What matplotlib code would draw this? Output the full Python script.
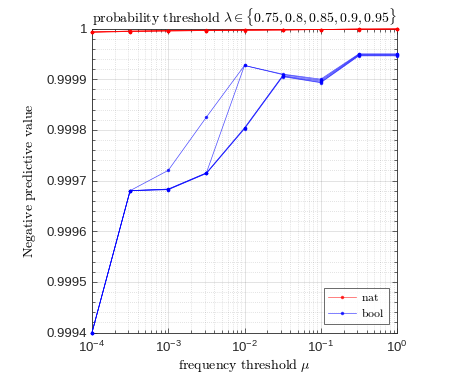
import numpy as np
import matplotlib
matplotlib.use("Agg")
import matplotlib.pyplot as plt
from matplotlib.ticker import MultipleLocator, LogLocator, NullFormatter, FixedLocator

plt.rcParams['font.family'] = ['Liberation Sans', 'DejaVu Sans']

mu = [1e-4, 10**-3.5, 1e-3, 10**-2.5, 1e-2, 10**-1.5, 1e-1, 10**-0.5, 1.0]
lambdas = [0.75, 0.8, 0.85, 0.9, 0.95]

nat = [
    [0.999993, 0.999995, 0.999996, 0.999997, 0.999997, 0.999998, 0.999998, 0.999999, 0.999999],
    [0.999993, 0.999995, 0.999996, 0.999996, 0.999997, 0.999998, 0.999998, 0.999999, 0.999999],
    [0.999993, 0.999994, 0.999996, 0.999996, 0.999997, 0.999997, 0.999998, 0.999999, 0.999999],
    [0.999993, 0.999994, 0.999995, 0.999996, 0.999997, 0.999997, 0.999998, 0.999998, 0.999999],
    [0.999993, 0.999994, 0.999995, 0.999996, 0.999996, 0.999997, 0.999998, 0.999998, 0.999999],
]
bool_ = [
    [0.9994, 0.999680, 0.999720, 0.999825, 0.999927, 0.999910, 0.999900, 0.999950, 0.999950],
    [0.9994, 0.999680, 0.999683, 0.999715, 0.999927, 0.999909, 0.999898, 0.999949, 0.999949],
    [0.9994, 0.999680, 0.999683, 0.999715, 0.999804, 0.999907, 0.999896, 0.999948, 0.999948],
    [0.9994, 0.999680, 0.999682, 0.999714, 0.999803, 0.999906, 0.999894, 0.999947, 0.999947],
    [0.9994, 0.999680, 0.999682, 0.999714, 0.999802, 0.999905, 0.999893, 0.999946, 0.999946],
]
ytick_vals = [0.9994, 0.9995, 0.9996, 0.9997, 0.9998, 0.9999, 1.0]
ytick_labels = ['0.9994', '0.9995', '0.9996', '0.9997', '0.9998', '0.9999', '1']

fig = plt.figure(figsize=(4.71, 3.73), dpi=100)
ax = fig.add_axes([92/471, 1-332.5/373, (397-92)/471, (332.5-28.5)/373])

for i, row in enumerate(nat):
    ax.plot(mu, row, color=(1, 0, 0), lw=0.5, marker='.', ms=3, alpha=0.7,
            label=r'$\mathrm{nat}$' if i == 0 else None, clip_on=False, zorder=3)
for i, row in enumerate(bool_):
    ax.plot(mu, row, color=(0, 0, 1), lw=0.5, marker='.', ms=3, alpha=0.7,
            label=r'$\mathrm{bool}$' if i == 0 else None, clip_on=False, zorder=3)

ax.set_xscale('log')
ax.set_xlim(1e-4, 1)
ax.set_ylim(0.9994, 1.0)
ax.xaxis.set_major_locator(FixedLocator([1e-4, 1e-3, 1e-2, 1e-1, 1]))
ax.xaxis.set_minor_locator(LogLocator(base=10, subs=np.arange(2, 10)))
ax.xaxis.set_minor_formatter(NullFormatter())
ax.yaxis.set_minor_locator(MultipleLocator(0.00002))
ax.set_yticks(ytick_vals)
ax.set_yticklabels(ytick_labels)

axc = (0.15, 0.15, 0.15)
for s in ax.spines.values():
    s.set_color(axc)
    s.set_linewidth(0.6)
ax.tick_params(which='both', direction='in', top=True, right=True, colors=axc,
               labelsize=9.5, width=0.5)
ax.tick_params(which='major', length=3.5)
ax.tick_params(which='minor', length=2)
ax.tick_params(axis='x', pad=5)

ax.grid(True, which='major', color=(0.15, 0.15, 0.15), alpha=0.15, lw=0.6, ls='-')
ax.grid(True, which='minor', color=(0.15, 0.15, 0.15), alpha=0.25, lw=0.5, ls=(0, (1, 2)))
ax.set_axisbelow(True)

ax.set_title(r'$\mathrm{probability\ threshold}\ \lambda \in \{0.75, 0.8, 0.85, 0.9, 0.95\}$',
             math_fontfamily='cm', fontsize=10, pad=4)
ax.set_xlabel(r'$\mathrm{frequency\ threshold}\ \mu$', math_fontfamily='cm', fontsize=10, labelpad=2)
ax.set_ylabel(r'$\mathrm{Negative\ predictive\ value}$', math_fontfamily='cm', fontsize=10, labelpad=6)

leg = ax.legend(loc='lower right', frameon=True, fancybox=False,
                edgecolor=axc, handlelength=2.4, borderaxespad=0.7,
                borderpad=0.35, labelspacing=0.25, handletextpad=0.4,
                prop={'size': 8.5})
leg.get_frame().set_linewidth(0.6)
for t in leg.get_texts():
    t.set_math_fontfamily('cm')

fig.savefig('out.png', dpi=100)
